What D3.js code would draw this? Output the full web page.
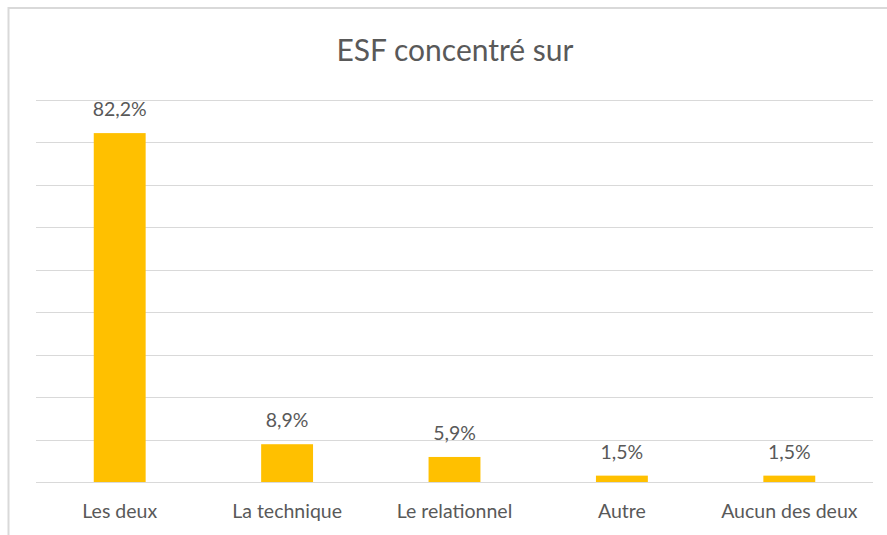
<!DOCTYPE html>
<meta charset="utf-8">
<head>
<style>
    body {margin: 0; background: #ffffff;}
    text {font-family: Lato, "Open Sans", sans-serif; fill: #595959;}
</style>
</head>
<body>
<div class="chart"></div>
<script src="https://d3js.org/d3.v7.min.js"></script>
<script>
var categories = ["Les deux", "La technique", "Le relationnel", "Autre", "Aucun des deux"];
var values = [82.2, 8.9, 5.9, 1.5, 1.5];
var labels = ["82,2%", "8,9%", "5,9%", "1,5%", "1,5%"];
var gridTicks = [0, 10, 20, 30, 40, 50, 60, 70, 80, 90];

var W = 887, H = 535;
var margin = {top: 100, right: 14, bottom: 53, left: 36},
    width = W - margin.left - margin.right,
    height = H - margin.top - margin.bottom;

var svg = d3.select(".chart").append("svg")
    .attr("width", W)
    .attr("height", H);

// cadre gris (bords gauche et haut seulement visibles)
svg.append("rect")
    .attr("x", 8.5).attr("y", 8)
    .attr("width", W + 20).attr("height", H + 20)
    .attr("fill", "none")
    .attr("stroke", "#d9d9d9")
    .attr("stroke-width", 2);

svg.append("text")
    .attr("x", 455).attr("y", 61)
    .attr("text-anchor", "middle")
    .style("font-size", "30px")
    .text("ESF concentré sur");

var g = svg.append("g").attr("transform", "translate(" + margin.left + "," + margin.top + ")");

var x = d3.scaleBand().domain(categories).range([0, width]).paddingInner(0.69).paddingOuter(0.345);
var y = d3.scaleLinear().domain([0, 90]).range([height, 0]);

g.selectAll(".grid").data(gridTicks).enter().append("line")
    .attr("class", "grid")
    .attr("x1", 0).attr("x2", width)
    .attr("y1", function (d) { return Math.round(y(d)) + 0.5; })
    .attr("y2", function (d) { return Math.round(y(d)) + 0.5; })
    .attr("stroke", "#d9d9d9")
    .attr("stroke-width", 1);

var data = categories.map(function (c, i) {
    return {cat: c, value: values[i], label: labels[i]};
});

g.selectAll(".bar").data(data).enter().append("rect")
    .attr("class", "bar")
    .attr("x", function (d) { return x(d.cat); })
    .attr("width", x.bandwidth())
    .attr("y", function (d) { return y(d.value); })
    .attr("height", function (d) { return height - y(d.value); })
    .style("fill", "#ffc000");

g.selectAll(".lbl").data(data).enter().append("text")
    .attr("class", "lbl")
    .attr("x", function (d) { return x(d.cat) + x.bandwidth() / 2; })
    .attr("y", function (d) { return y(d.value) - 17; })
    .attr("text-anchor", "middle")
    .style("font-size", "19.5px")
    .text(function (d) { return d.label; });

var xAxis = g.append("g")
    .attr("transform", "translate(0," + height + ")")
    .call(d3.axisBottom(x).tickSize(0).tickPadding(22));
xAxis.select(".domain").remove();
xAxis.selectAll("text")
    .style("font-family", "Lato, 'Open Sans', sans-serif")
    .style("font-size", "19.5px")
    .attr("fill", "#595959");
</script>
</body>
